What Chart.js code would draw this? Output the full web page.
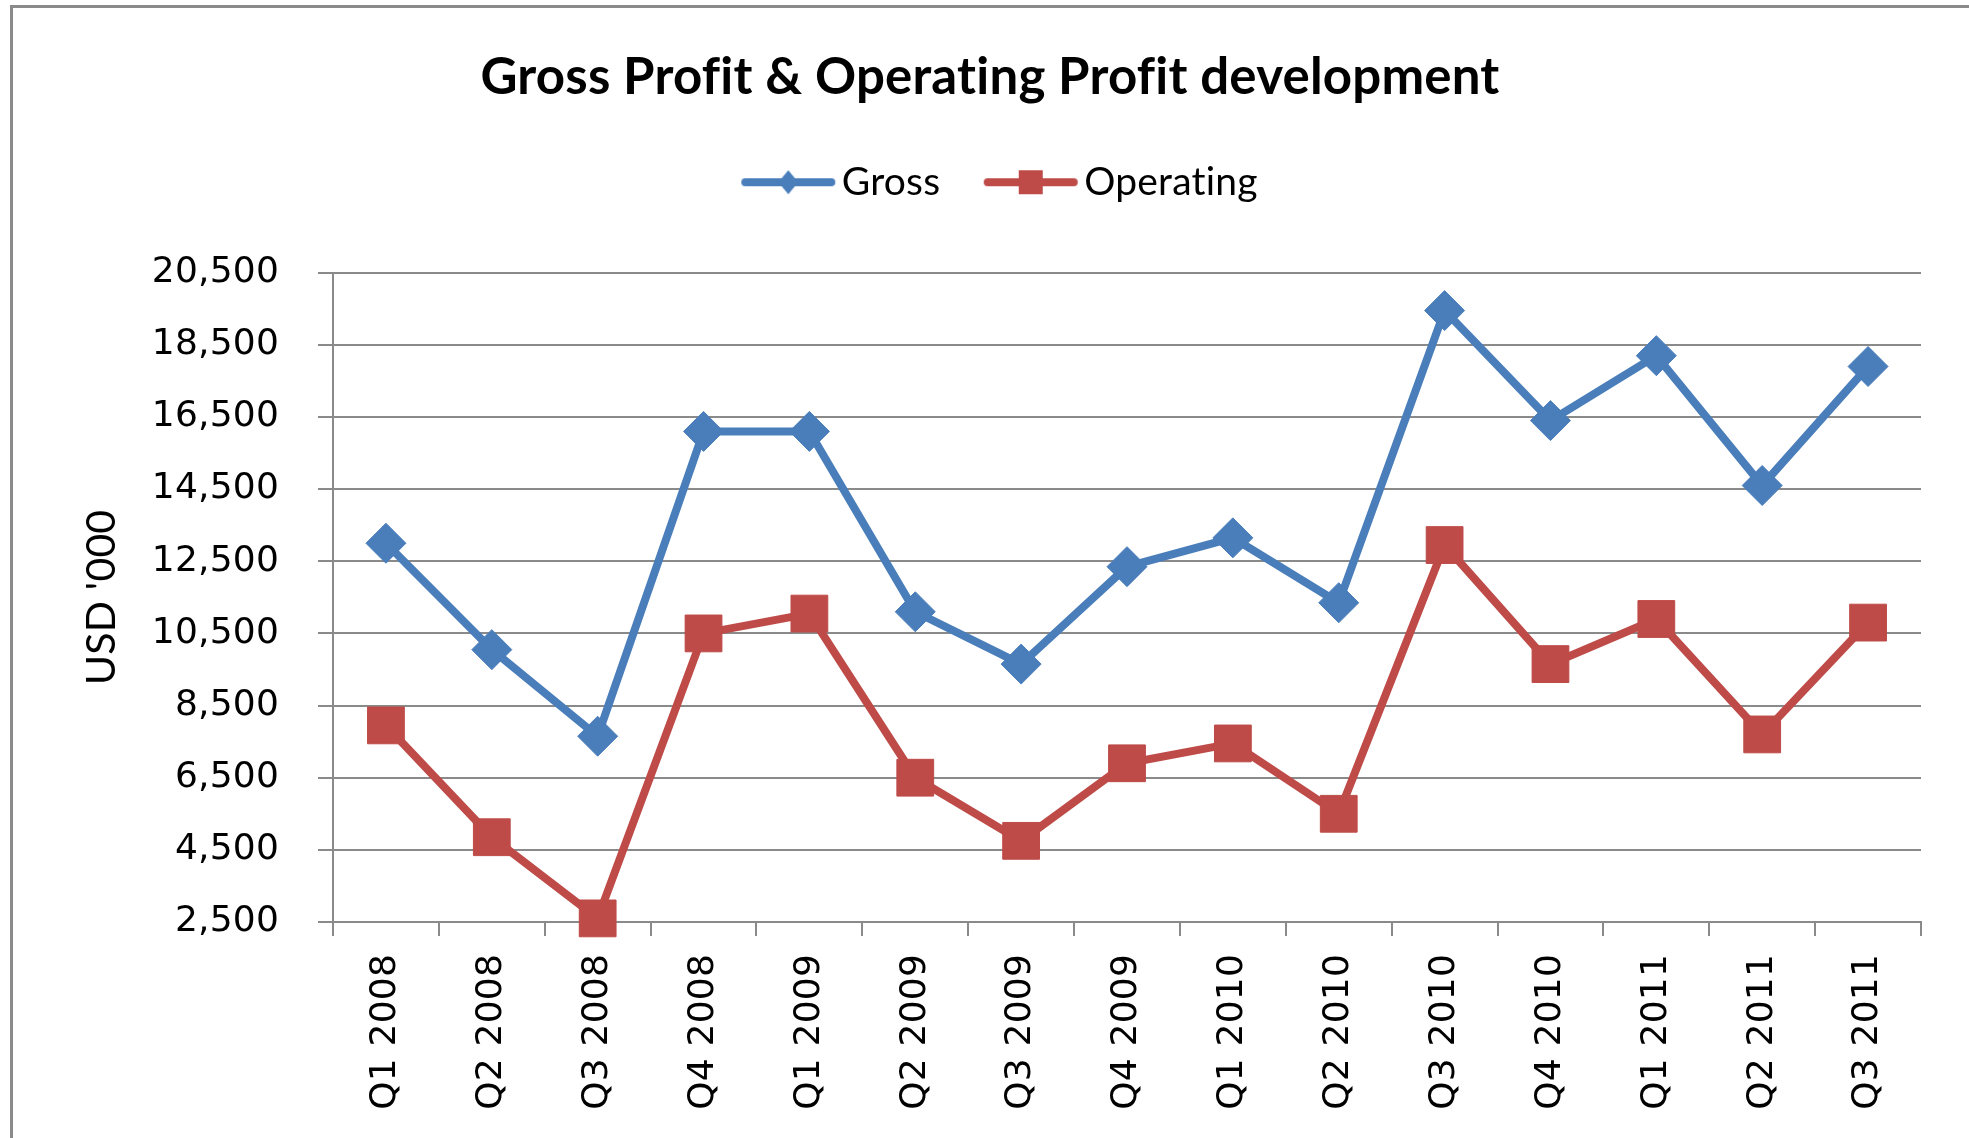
<!DOCTYPE html>
<html><head><meta charset="utf-8">
<script src="https://cdn.jsdelivr.net/npm/chart.js@4.4.0/dist/chart.umd.min.js"></script>
<style>
html,body{margin:0;padding:0;background:#fff;overflow:hidden;width:1969px;height:1138px;}
#frame{position:absolute;left:10px;top:5px;width:2100px;height:1300px;border:3px solid #8a8a8a;box-sizing:border-box;}
#c{position:absolute;left:0;top:0;}
</style></head><body>
<div id="frame"></div>
<canvas id="c" width="1969" height="1138"></canvas>
<script>
const categories = ['Q1 2008','Q2 2008','Q3 2008','Q4 2008','Q1 2009','Q2 2009','Q3 2009','Q4 2009','Q1 2010','Q2 2010','Q3 2010','Q4 2010','Q1 2011','Q2 2011','Q3 2011'];
const grossValues = [13000,10050,7650,16100,16100,11100,9650,12350,13150,11350,19450,16400,18200,14600,17900];
const operatingValues = [7950,4850,2600,10500,11050,6500,4750,6900,7450,5500,12950,9650,10900,7700,10800];
const yTicks = [2500,4500,6500,8500,10500,12500,14500,16500,18500,20500];
const seriesNames = ['Gross','Operating'];

const BLUE = '#4A7EBB', RED = '#BE4B48', GRID = '#8a8a8a';

function makeIcon(color, shape){
  const c = document.createElement('canvas');
  c.width = 128; c.height = 28;
  const g = c.getContext('2d');
  const o = 32;
  g.strokeStyle = color; g.fillStyle = color; g.lineWidth = 8; g.lineCap = 'round';
  g.beginPath(); g.moveTo(o + 5, 14); g.lineTo(o + 91, 14); g.stroke();
  g.beginPath();
  if (shape === 'diamond'){ g.moveTo(o+48,2); g.lineTo(o+58,14); g.lineTo(o+48,26); g.lineTo(o+38,14); g.closePath(); }
  else { g.rect(o+36,2,24,24); }
  g.fill();
  return c;
}

const noLigatures = {
  id: 'noLigatures',
  beforeLayout(chart){ chart.ctx.letterSpacing = '0.2px'; },
  beforeDraw(chart){ chart.ctx.letterSpacing = '0.2px'; }
};

function build(){
  const icons = [makeIcon(BLUE,'diamond'), makeIcon(RED,'square')];
  new Chart(document.getElementById('c'), {
    type: 'line',
    plugins: [noLigatures],
    data: {
      labels: categories,
      datasets: [
        {label: seriesNames[0], data: grossValues, borderColor: BLUE, backgroundColor: BLUE, borderWidth: 8,
         pointStyle: 'rectRot', pointRadius: 20, pointBorderWidth: 1, pointBackgroundColor: BLUE, pointBorderColor: BLUE,
         tension: 0, clip: false},
        {label: seriesNames[1], data: operatingValues, borderColor: RED, backgroundColor: RED, borderWidth: 8,
         pointStyle: 'rect', pointRadius: 26, pointBorderWidth: 1, pointBackgroundColor: RED, pointBorderColor: RED,
         tension: 0, clip: false}
      ]
    },
    options: {
      responsive: false, animation: false, devicePixelRatio: 1,
      layout: {padding: {left: 59, right: 48, top: 0, bottom: 0}},
      plugins: {
        tooltip: {enabled: false},
        title: {display: true, text: 'Gross Profit & Operating Profit development', color: '#000',
                font: {family: 'Lato', size: 51, weight: 'bold'}, padding: {top: 47, bottom: 30}},
        subtitle: {display: true, text: ' ', weight: 500, font: {size: 1, lineHeight: 1}, padding: {top: 0, bottom: 60}},
        legend: {
          display: true, position: 'top',
          labels: {
            usePointStyle: true, pointStyleWidth: 100, padding: 24.5, color: '#000',
            font: {family: 'Lato', size: 39},
            generateLabels: (chart) => chart.data.datasets.map((ds, i) => ({
              text: ds.label, pointStyle: icons[i], fillStyle: ds.borderColor, strokeStyle: ds.borderColor,
              lineWidth: 0, hidden: false, datasetIndex: i, fontColor: '#000'
            }))
          }
        }
      },
      scales: {
        x: {
          type: 'category', offset: true,
          grid: {display: true, drawOnChartArea: false, drawTicks: true, tickLength: 14, color: GRID, lineWidth: 2, offset: true},
          border: {display: true, color: GRID, width: 2},
          ticks: {autoSkip: false, maxRotation: 90, minRotation: 90, padding: 18, color: '#000',
                  font: {family: 'DejaVu Sans', size: 36}},
          afterFit: (s) => { s.height = 216; }
        },
        y: {
          min: 2500, max: 20500,
          afterBuildTicks: (s) => { s.ticks = yTicks.map(v => ({value: v})); },
          grid: {color: GRID, lineWidth: 2, tickLength: 15},
          border: {color: GRID, width: 2},
          ticks: {padding: 39, color: '#000', font: {family: 'DejaVu Sans', size: 36},
                  callback: (v) => Number(v).toLocaleString('en-US')},
          title: {display: true, text: "USD '000", color: '#000', font: {family: 'Lato', size: 41}, padding: {top: 18, bottom: 0}},
          afterFit: (s) => { s.width = 274; }
        }
      }
    }
  });
}
Promise.all([
  document.fonts.load('bold 51px Lato'), document.fonts.load('39px Lato'), document.fonts.load('36px "DejaVu Sans"')
]).then(build, build);
</script>
</body></html>
